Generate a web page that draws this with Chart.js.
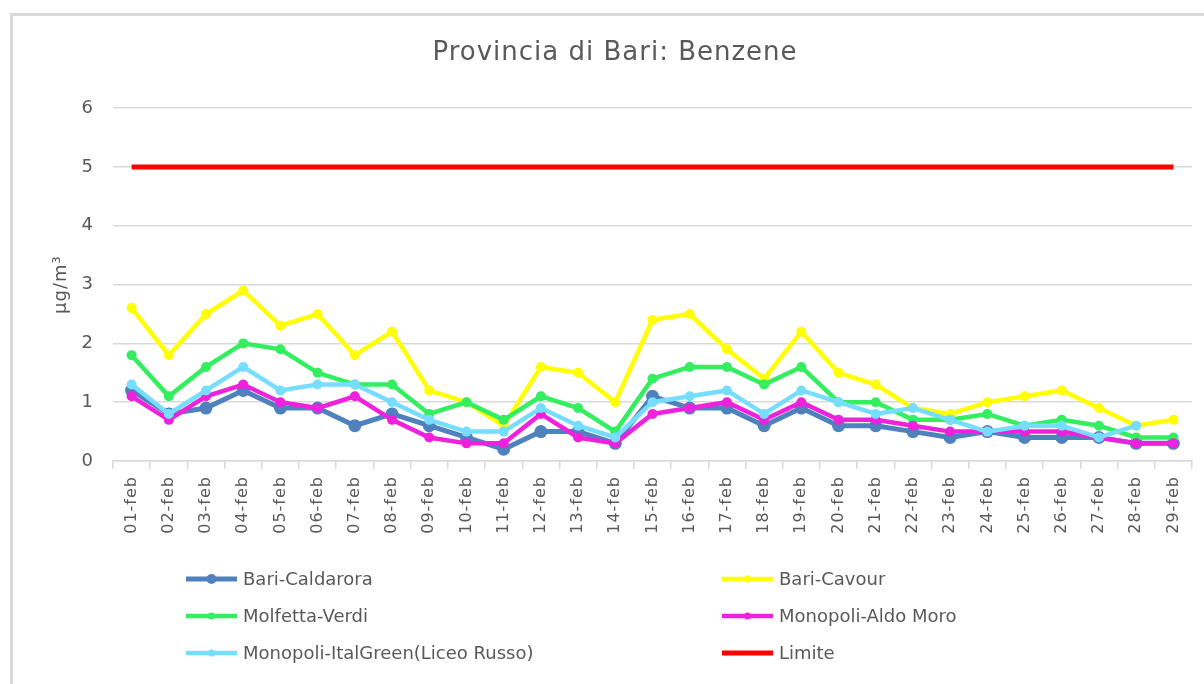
<!DOCTYPE html>
<html>
<head>
<meta charset="utf-8">
<script src="https://cdn.jsdelivr.net/npm/chart.js@4/dist/chart.umd.min.js"></script>
<style>
  html,body{margin:0;padding:0;background:#fff;}
  #wrap{width:1204px;height:684px;position:relative;}
</style>
</head>
<body>
<div id="wrap"><canvas id="benzene" width="1204" height="684"></canvas></div>
<script>
const days=['01-feb','02-feb','03-feb','04-feb','05-feb','06-feb','07-feb','08-feb','09-feb','10-feb',
  '11-feb','12-feb','13-feb','14-feb','15-feb','16-feb','17-feb','18-feb','19-feb','20-feb',
  '21-feb','22-feb','23-feb','24-feb','25-feb','26-feb','27-feb','28-feb','29-feb'];

const caldarora=[1.2,0.8,0.9,1.2,0.9,0.9,0.6,0.8,0.6,0.4,0.2,0.5,0.5,0.3,1.1,0.9,0.9,0.6,0.9,0.6,0.6,0.5,0.4,0.5,0.4,0.4,0.4,0.3,0.3];
const cavour=[2.6,1.8,2.5,2.9,2.3,2.5,1.8,2.2,1.2,1.0,0.6,1.6,1.5,1.0,2.4,2.5,1.9,1.4,2.2,1.5,1.3,0.9,0.8,1.0,1.1,1.2,0.9,0.6,0.7];
const molfetta=[1.8,1.1,1.6,2.0,1.9,1.5,1.3,1.3,0.8,1.0,0.7,1.1,0.9,0.5,1.4,1.6,1.6,1.3,1.6,1.0,1.0,0.7,0.7,0.8,0.6,0.7,0.6,0.4,0.4];
const aldoMoro=[1.1,0.7,1.1,1.3,1.0,0.9,1.1,0.7,0.4,0.3,0.3,0.8,0.4,0.3,0.8,0.9,1.0,0.7,1.0,0.7,0.7,0.6,0.5,0.5,0.5,0.5,0.4,0.3,0.3];
const italGreen=[1.3,0.8,1.2,1.6,1.2,1.3,1.3,1.0,0.7,0.5,0.5,0.9,0.6,0.4,1.0,1.1,1.2,0.8,1.2,1.0,0.8,0.9,0.7,0.5,0.6,0.6,0.4,0.6,null];
const limite=[5,5,5,5,5,5,5,5,5,5,5,5,5,5,5,5,5,5,5,5,5,5,5,5,5,5,5,5,5];

const yTicks=[0,1,2,3,4,5,6];

const txt='#595959';
const grid='#d9d9d9';

function serie(label,data,color,width,radius,order){
  return {
    label:label,
    data:data,
    borderColor:color,
    backgroundColor:color,
    pointBackgroundColor:color,
    pointBorderColor:color,
    borderWidth:width,
    pointRadius:radius,
    pointHoverRadius:radius,
    pointBorderWidth:0,
    tension:0,
    order:order
  };
}

const datasets=[
  serie('Bari-Caldarora',caldarora,'#4f81bd',5,6.5,6),
  serie('Bari-Cavour',cavour,'#ffff00',4.5,5,5),
  serie('Molfetta-Verdi',molfetta,'#33ee5f',4.5,5,4),
  serie('Monopoli-Aldo Moro',aldoMoro,'#ee22dd',4.5,5,3),
  serie('Monopoli-ItalGreen(Liceo Russo)',italGreen,'#77ddff',4.5,5,2),
  serie('Limite',limite,'#ff0000',5,0,1)
];

// testo leggermente spaziato come nel grafico Excel
const spacing={
  id:'spacing',
  beforeUpdate(chart){ chart.ctx.letterSpacing='1px'; },
  beforeDraw(chart){ chart.ctx.letterSpacing='1px'; }
};

// cornice grigia e sfondo
const frame={
  id:'frame',
  beforeDraw(chart){
    const c=chart.ctx;
    c.save();
    c.fillStyle='#fff';
    c.fillRect(0,0,chart.width,chart.height);
    c.strokeStyle=grid;
    c.lineWidth=3;
    c.strokeRect(11.5,14.5,chart.width+20,chart.height+20);
    c.restore();
  }
};

// legenda su due colonne
const legend2={
  id:'legend2',
  afterDraw(chart){
    const c=chart.ctx;
    const a=chart.chartArea;
    c.save();
    c.letterSpacing='0px';
    c.font='18px "DejaVu Sans"';
    c.textBaseline='middle';
    chart.data.datasets.forEach((ds,i)=>{
      const col=i%2, row=Math.floor(i/2);
      const x0=col? a.left+609 : a.left+73;
      const y=a.bottom+118+row*37;
      c.strokeStyle=ds.borderColor;
      c.lineWidth=ds.borderWidth;
      c.beginPath();
      c.moveTo(x0,y);
      c.lineTo(x0+51,y);
      c.stroke();
      if(ds.pointRadius>0){
        c.fillStyle=ds.borderColor;
        c.beginPath();
        c.arc(x0+25.5,y,ds.pointRadius-1.5,0,Math.PI*2);
        c.fill();
      }
      c.fillStyle=txt;
      c.fillText(ds.label,x0+57,y+1);
    });
    c.restore();
  }
};

new Chart(document.getElementById('benzene'),{
  type:'line',
  data:{labels:days,datasets:datasets},
  plugins:[spacing,frame,legend2],
  options:{
    responsive:false,
    animation:false,
    events:[],
    layout:{padding:{top:14,left:38,right:12,bottom:123}},
    plugins:{
      legend:{display:false},
      tooltip:{enabled:false},
      title:{
        display:true,
        text:'Provincia di Bari: Benzene',
        color:txt,
        font:{family:'"DejaVu Sans"',size:26,weight:'normal'},
        padding:{top:24,bottom:39}
      }
    },
    scales:{
      x:{
        offset:true,
        grid:{display:true,drawOnChartArea:false,drawTicks:true,tickLength:8,color:grid,lineWidth:1.5,offset:true},
        border:{display:true,color:grid,width:1.5},
        ticks:{color:txt,font:{family:'"DejaVu Sans"',size:16},minRotation:90,maxRotation:90,autoSkip:false,padding:7},
        afterFit(s){s.height=100;}
      },
      y:{
        min:0,max:6,
        afterBuildTicks(s){s.ticks=yTicks.map(v=>({value:v}));},
        grid:{color:grid,lineWidth:1.5,drawTicks:false},
        border:{display:false},
        ticks:{color:txt,font:{family:'"DejaVu Sans"',size:18},padding:19},
        title:{display:true,text:'µg/m³',color:txt,font:{family:'"DejaVu Sans"',size:18},padding:{top:13,bottom:0}},
        afterFit(s){s.width=75;}
      }
    }
  }
});
</script>
</body>
</html>
